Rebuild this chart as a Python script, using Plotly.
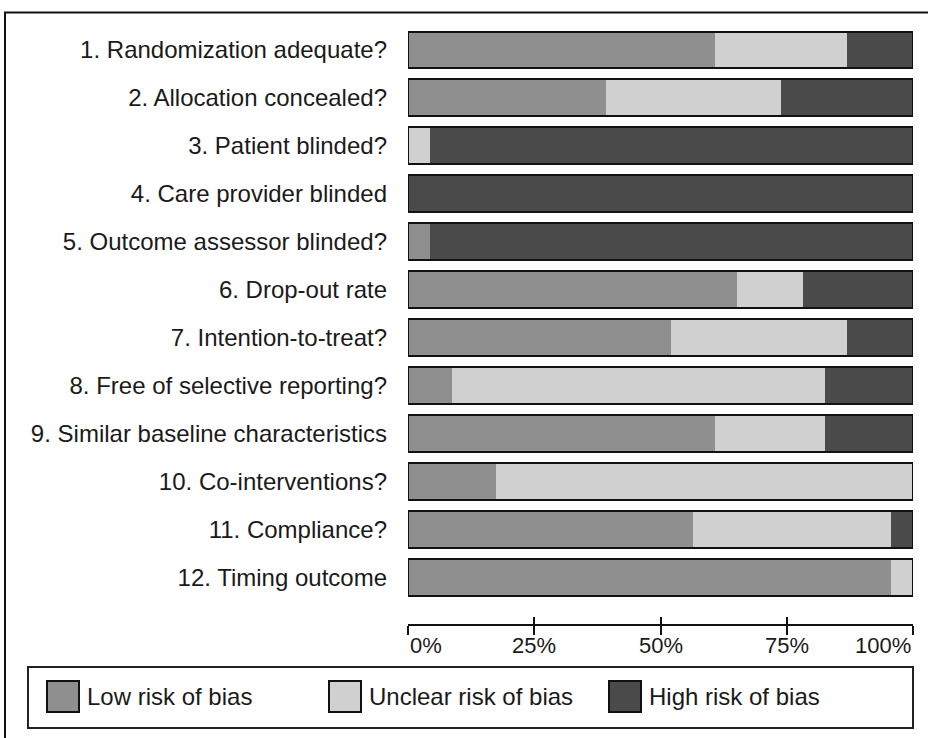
import plotly.graph_objects as go

# ---------------- data ----------------
domains = [
    "1. Randomization adequate?",
    "2. Allocation concealed?",
    "3. Patient blinded?",
    "4. Care provider blinded",
    "5. Outcome assessor blinded?",
    "6. Drop-out rate",
    "7. Intention-to-treat?",
    "8. Free of selective reporting?",
    "9. Similar baseline characteristics",
    "10. Co-interventions?",
    "11. Compliance?",
    "12. Timing outcome",
]
n_studies = 23
low_risk = [14, 9, 0, 0, 1, 15, 12, 2, 14, 4, 13, 22]
unclear_risk = [6, 8, 1, 0, 0, 3, 8, 17, 5, 19, 9, 1]
high_risk = [3, 6, 22, 23, 22, 5, 3, 4, 4, 0, 1, 0]
series_names = ["Low risk of bias", "Unclear risk of bias", "High risk of bias"]
tick_values = [0, 25, 50, 75, 100]
tick_labels = ["0%", "25%", "50%", "75%", "100%"]

# ---------------- style ----------------
colors = ["#8f8f8f", "#d0d0d0", "#4a4a4a"]
FONT = "Liberation Sans, Arial, sans-serif"
TXT = "#1a1a1a"
W, H = 928, 738
PL, PR, PT, PB = 408, 913, 25.5, 624


def px(x):
    return (x - PL) / (PR - PL)


def py(y):
    return (PB - y) / (PB - PT)


pct = lambda v: [c / n_studies * 100 for c in v]
low_p, unc_p, high_p = pct(low_risk), pct(unclear_risk), pct(high_risk)
ypos = list(range(len(domains)))
bw = 37 / 48

fig = go.Figure()
bases = [[0] * len(domains), low_p, [a + b for a, b in zip(low_p, unc_p)]]
for name, vals, base, col in zip(series_names, [low_p, unc_p, high_p], bases, colors):
    fig.add_trace(go.Bar(
        y=ypos, x=vals, base=base, orientation="h", name=name, width=bw,
        marker=dict(color=col, line=dict(width=0)), opacity=1, showlegend=False,
        hoverinfo="skip",
    ))

totals = [a + b + c for a, b, c in zip(low_p, unc_p, high_p)]
fig.add_trace(go.Bar(
    y=ypos, x=totals, base=[0] * len(domains), orientation="h", width=bw,
    marker=dict(color="rgba(0,0,0,0)", line=dict(width=2, color="#111111")),
    showlegend=False, hoverinfo="skip",
))
# helper trace for the upper half of tick marks
fig.add_trace(go.Scatter(x=[None], y=[None], xaxis="x2", yaxis="y", showlegend=False))

shapes = []
annotations = []
# outer frame
shapes.append(dict(type="rect", xref="paper", yref="paper",
                   x0=px(5), x1=px(940), y0=py(750), y1=py(12),
                   line=dict(color="#111111", width=2), layer="below"))
# legend box
shapes.append(dict(type="rect", xref="paper", yref="paper",
                   x0=px(28), x1=px(913), y0=py(728), y1=py(667),
                   line=dict(color="#222222", width=2)))
sw_x = [47, 329, 609]
for name, col, sx in zip(series_names, colors, sw_x):
    shapes.append(dict(type="rect", xref="paper", yref="paper",
                       x0=px(sx), x1=px(sx + 32), y0=py(712), y1=py(681),
                       fillcolor=col, line=dict(color="#111111", width=2)))
    annotations.append(dict(text=name, xref="paper", yref="paper",
                            x=px(sx + 38), y=py(697), xanchor="left", yanchor="middle",
                            showarrow=False, font=dict(family=FONT, size=24, color=TXT)))

# x tick labels
for tv, tl in zip(tick_values, tick_labels):
    anchor = "left" if tv == tick_values[0] else ("right" if tv == tick_values[-1] else "center")
    annotations.append(dict(text=tl, xref="x", yref="paper", x=tv, y=py(646),
                            xanchor=anchor, yanchor="middle", showarrow=False,
                            font=dict(family=FONT, size=22, color=TXT)))

fig.update_layout(
    width=W, height=H,
    margin=dict(l=PL, r=W - PR, t=PT, b=H - PB, pad=0),
    paper_bgcolor="white", plot_bgcolor="white",
    barmode="overlay",
    bargap=0,
    font=dict(family=FONT, size=24, color=TXT),
    xaxis=dict(range=[0, 100], showgrid=False, zeroline=False, showline=True,
               linecolor="#111111", linewidth=1.5, ticks="outside", ticklen=9,
               tickwidth=1.5, tickcolor="#111111", tickvals=tick_values,
               showticklabels=False, fixedrange=True),
    xaxis2=dict(range=[0, 100], overlaying="x", anchor="y", side="bottom",
                showgrid=False, zeroline=False, showline=False, ticks="inside",
                ticklen=7, tickwidth=1.5, tickcolor="#111111", tickvals=tick_values,
                showticklabels=False),
    yaxis=dict(range=[len(domains) - 0.5 + (PB - PT - 48 * len(domains)) / 48, -0.5],
               tickvals=ypos, ticktext=domains, showgrid=False, zeroline=False,
               showline=False, ticks="", ticklabelstandoff=20,
               tickfont=dict(family=FONT, size=24, color=TXT)),
    shapes=shapes,
    annotations=annotations,
)

fig.write_html("out.html",
               config={"displayModeBar": False},
               post_script="document.body.style.margin='0';document.body.style.overflow='hidden';")
